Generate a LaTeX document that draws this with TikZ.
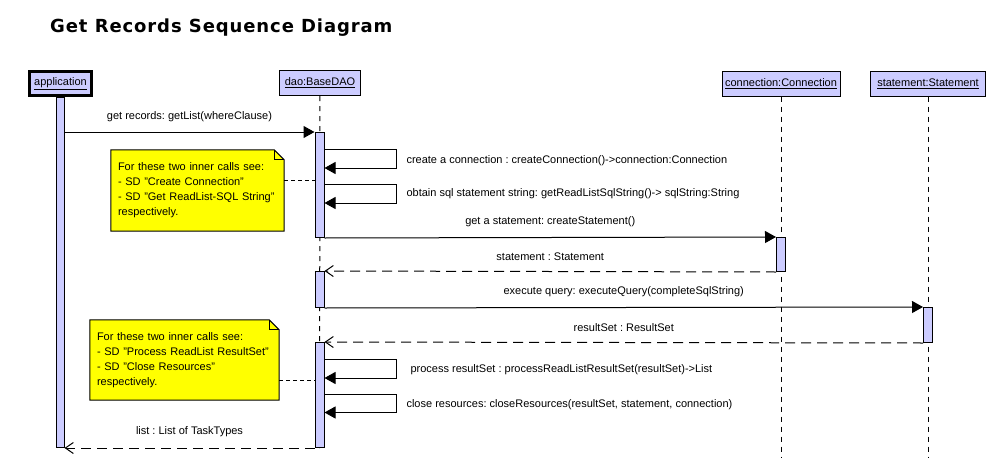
\documentclass[tikz,border=0pt]{standalone}
\usepackage{fontspec}
\setmainfont{Liberation Sans}
\newfontfamily\titlefont[LetterSpace=5]{DejaVu Sans}
\usepackage{xcolor}
\usetikzlibrary{arrows.meta,positioning,backgrounds}
\definecolor{barfill}{RGB}{204,204,255}
\definecolor{notefill}{RGB}{255,255,0}
\frenchspacing

\begin{document}
\begin{tikzpicture}[x=1pt,y=-1pt,font=\fontsize{11}{13}\selectfont,
head/.style={draw,fill=barfill,minimum height=25pt,inner sep=2pt,line width=1pt},
bar/.style={draw,fill=barfill,minimum width=9pt,inner sep=0pt,anchor=north,line width=1pt},
life/.style={line width=1pt,dash pattern=on 5pt off 5pt},
call/.style={line width=1pt,-{Triangle[length=11pt,width=12pt]}},
ret/.style={line width=1pt,dash pattern=on 10pt off 6pt,-{Straight Barb[length=8pt,width=11pt]}},
link/.style={line width=1pt,dash pattern=on 4pt off 3pt},
note/.style={text width=#1,align=left,inner xsep=7pt,minimum height=80pt,font=\fontsize{11}{15}\selectfont}]
\useasboundingbox (0,0) rectangle (994,458);
\coordinate (bottom) at (0,458);

\node[anchor=base west,inner sep=0pt,font=\titlefont\bfseries\fontsize{18}{20}\selectfont] (title) at (50,32.5) {Get Records Sequence Diagram};

% lifeline heads
\node[head,line width=3pt,minimum width=62pt,minimum height=24pt] (app) at (60.5,83.5) {\underline{application}};
\node[head,minimum width=81pt] (dao) at (320,83) {\underline{dao:BaseDAO}};
\node[head,minimum width=118pt] (conn) at (781,83.5) {\underline{connection:Connection}};
\node[head,minimum width=115pt] (stmt) at (928,83.5) {\underline{statement:Statement}};

% activations
\node[bar,minimum width=8pt,minimum height=350pt] (appbar) at (60,97) {};
\node[bar,minimum height=105pt] (d1) at (319.5,132) {};
\node[bar,minimum height=34pt] (c1) at (781,237) {};
\node[bar,minimum height=36pt] (d2) at (319.5,271) {};
\node[bar,minimum height=35pt] (s1) at (928,307) {};
\node[bar,minimum height=105pt] (d3) at (319.5,342) {};

% messages
\path[call] (appbar.east |- d1.north) edge node[above=6pt]{get records: getList(whereClause)} (d1.north west);
\draw[call] ([yshift=-17pt]d1.north east) -- ++(72,0) |- ([yshift=-36pt]d1.north east);
\node[anchor=west] (m2) at (403,161) {create a connection : createConnection()->connection:Connection};
\draw[call] ([yshift=-52pt]d1.north east) -- ++(72,0) |- ([yshift=-71pt]d1.north east);
\node[anchor=west] (m3) at (403,194) {obtain sql statement string: getReadListSqlString()-> sqlString:String};
\path[call] (d1.south east) edge node[above=7pt]{get a statement: createStatement()} (c1.north west);
\path[ret] (c1.south west) edge node[above=7pt]{statement : Statement} (d2.north east);
\path[call] (d2.south east) edge node[above=7pt]{execute query: executeQuery(completeSqlString)} (s1.north west);
\path[ret] (s1.south west) edge node[above=7pt]{resultSet : ResultSet} (d3.north east);
\draw[call] ([yshift=-17.5pt]d3.north east) -- ++(72,0) |- ([yshift=-36pt]d3.north east);
\node[anchor=west] (m7) at (407,370) {process resultSet : processReadListResultSet(resultSet)->List};
\draw[call] ([yshift=-52pt]d3.north east) -- ++(72,0) |- ([yshift=-70.5pt]d3.north east);
\node[anchor=west] (m8) at (403,405) {close resources: closeResources(resultSet, statement, connection)};
\path[ret] (d3.south west) edge node[above=7pt]{list : List of TaskTypes} (appbar.east |- d3.south);

% notes
\node[note=159pt,minimum height=81pt] (note1) at (197.5,190.5) {For these two inner calls see:\\- SD "Create Connection"\\- SD "Get ReadList-SQL String"\\respectively.};
\node[note=175pt] (note2) at (184.5,360) {For these two inner calls see:\\- SD "Process ReadList ResultSet"\\- SD "Close Resources"\\respectively.};
\coordinate (n1) at ([yshift=10pt]note1.east);
\coordinate (n2) at ([yshift=-20pt]note2.east);
\draw[link] (n1) -- (n1 -| d1.west);
\draw[link] (n2) -- (n2 -| d3.west);

\begin{scope}[on background layer]
\draw[life] (dao) -- (d3.south);
\draw[life] (conn) -- (conn |- bottom);
\draw[life] (stmt) -- (stmt |- bottom);
\foreach \n in {note1,note2}{
  \filldraw[fill=notefill,line width=1pt] (\n.north west) -- ([xshift=-10pt]\n.north east) -- ([yshift=-10pt]\n.north east) -- (\n.south east) -- (\n.south west) -- cycle;
  \draw[line width=1pt] ([xshift=-10pt]\n.north east) |- ([yshift=-10pt]\n.north east);
}
\end{scope}
\end{tikzpicture}
\end{document}
